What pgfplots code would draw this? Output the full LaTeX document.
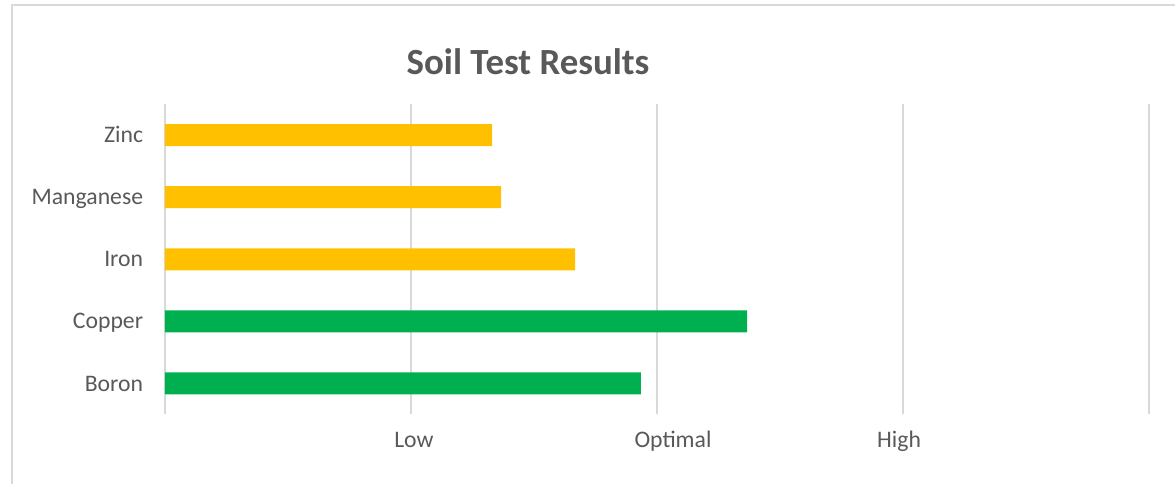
\documentclass[border=0pt]{standalone}
\usepackage{pgfplots}
\pgfplotsset{compat=1.18}
\usepackage{fontspec}
\setmainfont{Carlito}
\definecolor{txt}{HTML}{595959}
\definecolor{gridc}{HTML}{D9D9D9}
\definecolor{ylw}{HTML}{FFC000}
\definecolor{grn}{HTML}{00B050}
\begin{document}
\begin{tikzpicture}
\clip (0,0) rectangle (587.5pt,241.5pt);
\draw[gridc, line width=0.6pt] (6pt,-10pt) -- (6pt,239pt) -- (600pt,239pt);
\node[anchor=base, text=txt, inner sep=0pt, font=\fontsize{18.45}{22}\selectfont\bfseries] at (264pt,204pt) {Soil Test Results};
\begin{axis}[
  at={(82.5pt,34.25pt)}, anchor=south west,
  scale only axis, width=492pt, height=155.25pt,
  xmin=0, xmax=4, ymin=-0.5, ymax=4.5,
  axis line style={draw=none},
  tick style={draw=none},
  xmajorgrids,
  grid style={gridc, line width=0.8pt},
  xtick={0,1,2,3,4}, xticklabels={,,,,},
  extra x ticks={1.012,2.065,2.984},
  extra x tick labels={Low,Optimal,High},
  extra x tick style={grid=none, xticklabel style={anchor=base, yshift=-16.5pt, inner sep=0pt}},
  ytick={0,1,2,3,4},
  yticklabels={Boron,Copper,Iron,Manganese,Zinc},
  yticklabel style={anchor=base east, xshift=-6.5pt, yshift=-3.8pt, inner sep=0pt},
  ticklabel style={font=\fontsize{11.85}{14}\selectfont, text=txt},
  xbar, bar width=11pt,
]
\addplot[draw=none, fill=ylw, bar shift=0pt] coordinates {(1.330,4) (1.366,3) (1.667,2)};
\addplot[draw=none, fill=grn, bar shift=0pt] coordinates {(2.366,1) (1.934,0)};
\end{axis}
\end{tikzpicture}
\end{document}
